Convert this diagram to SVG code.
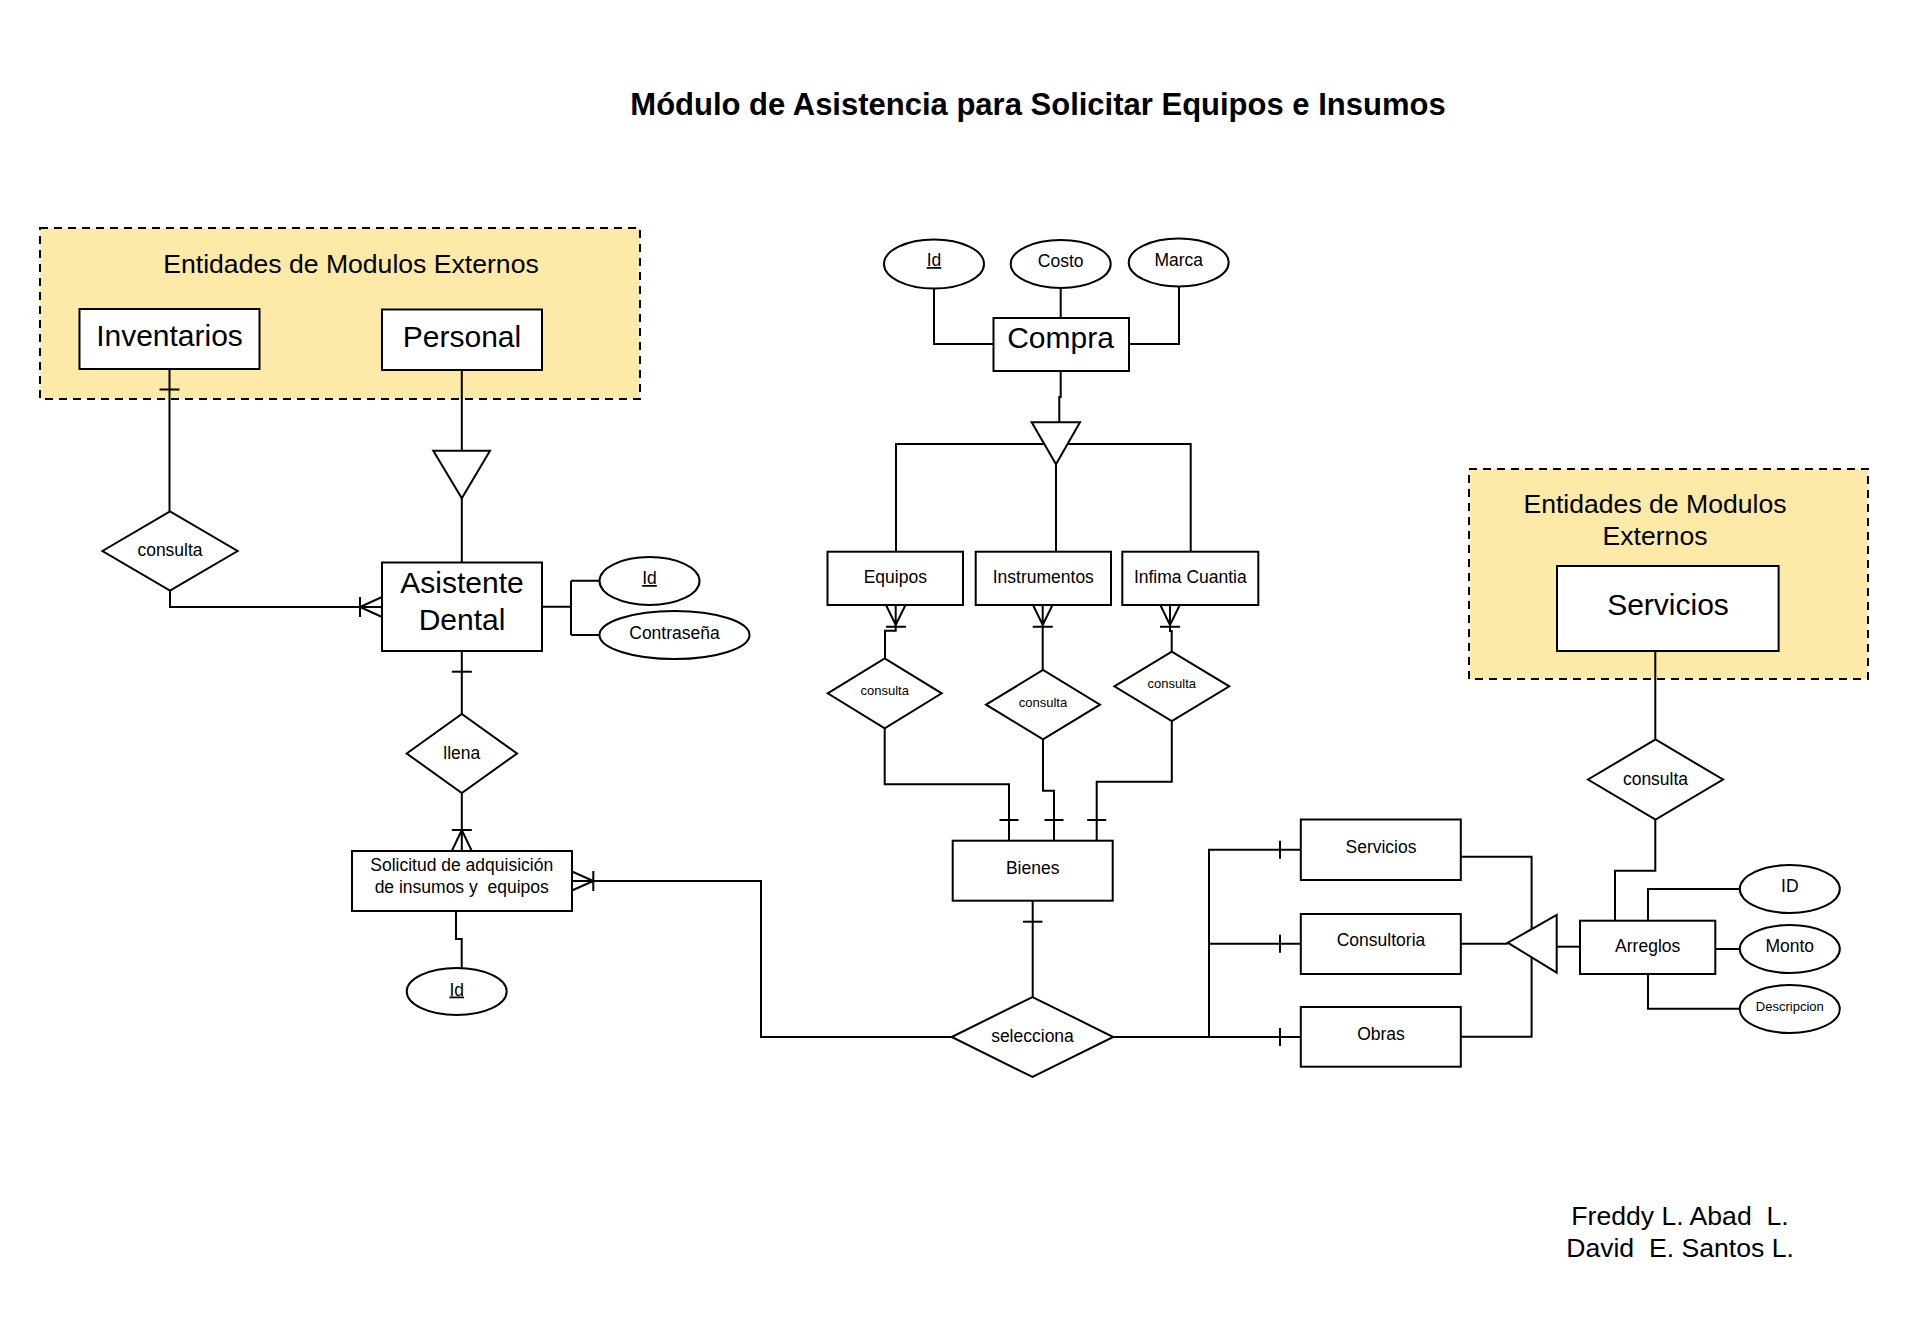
<svg xmlns="http://www.w3.org/2000/svg" width="1908" height="1329" viewBox="0 0 1908 1329">
<style>
  .bg { fill: #ffffff; }
  .grp { fill: #fde9a8; stroke: #000; stroke-width: 2; stroke-dasharray: 8 6; }
  .ent { fill: #ffffff; stroke: #000; stroke-width: 2; }
  .rel { fill: #ffffff; stroke: #000; stroke-width: 2; }
  .att { fill: #ffffff; stroke: #000; stroke-width: 2; }
  .isa { fill: #ffffff; stroke: #000; stroke-width: 2; }
  .ln { fill: none; stroke: #000; stroke-width: 2; }
  text { font-family: "Liberation Sans", Arial, sans-serif; fill: #000; text-anchor: middle; }
  .big { font-size: 30px; }
  .mid { font-size: 17.5px; }
  .sm { font-size: 13px; }
  .hdr { font-size: 26.6px; }
  .title { font-size: 31px; font-weight: bold; }
  .pre { white-space: pre; }
  .u { text-decoration: underline; }
</style>
<rect class="bg" x="0" y="0" width="1908" height="1329"/>

<text class="title" x="1038" y="115">Módulo de Asistencia para Solicitar Equipos e Insumos</text>

<!-- external module groups -->
<g id="grupo-externo-1">
  <rect class="grp" x="40" y="228" width="600" height="171"/>
  <text class="hdr" x="351" y="273">Entidades de Modulos Externos</text>
</g>
<g id="grupo-externo-2">
  <rect class="grp" x="1469" y="469" width="399" height="210"/>
  <text class="hdr" x="1655" y="513">Entidades de Modulos</text>
  <text class="hdr" x="1655" y="545">Externos</text>
</g>

<!-- connectors -->
<g id="connectors">
  <path class="ln" d="M169.5 369 V511"/>
  <path class="ln" d="M159.5 389.5 H179.5"/>
  <path class="ln" d="M170 591 V607 H382"/>
  <path class="ln" d="M360 597 V617 M382 597 L360 607 L382 617"/>
  <path class="ln" d="M461.8 370 V451"/>
  <path class="ln" d="M461.8 498 V562"/>
  <path class="ln" d="M542 606.7 H571 M571 580.7 V635 M571 580.7 H599.5 M571 635 H599.5"/>
  <path class="ln" d="M461.8 651 V714"/>
  <path class="ln" d="M451.8 671.7 H471.8"/>
  <path class="ln" d="M461.8 793 V851"/>
  <path class="ln" d="M451.8 830 H471.8 M451.8 851 L461.8 830 L471.8 851"/>
  <path class="ln" d="M456 910.7 V939 H461.7 V968"/>
  <path class="ln" d="M572 881 H761 V1037 H951.7"/>
  <path class="ln" d="M593.3 871 V891 M572 871.5 L593.3 881 L572 890.5"/>
  <path class="ln" d="M934 288 V344 H993"/>
  <path class="ln" d="M1060.7 288 V318"/>
  <path class="ln" d="M1179 287 V344 H1129"/>
  <path class="ln" d="M1060.7 371 V397 H1059.3 V422.3"/>
  <path class="ln" d="M896 551.7 V444 H1190.7 V551.7"/>
  <path class="ln" d="M1056 464.3 V551.7"/>
  <path class="ln" d="M886 605 L895.7 625 L905.5 605 M895.7 605 V630.7 H885 V658.3 M886 626.7 H906"/>
  <path class="ln" d="M1033 605 L1042.7 625 L1052.5 605 M1042.7 605 V670 M1032.7 626.7 H1052.7"/>
  <path class="ln" d="M1160.3 605 L1170 625 L1179.8 605 M1170 605 V631 H1171.7 V651.7 M1160 626.7 H1180"/>
  <path class="ln" d="M884.7 728.3 V784.3 H1009 V840.7"/>
  <path class="ln" d="M1043 739.3 V790.7 H1054 V840.7"/>
  <path class="ln" d="M1171.8 721 V781.7 H1096.7 V840.7"/>
  <path class="ln" d="M999.5 820 H1018.5 M1044.5 820 H1063.5 M1087.2 820 H1106.2"/>
  <path class="ln" d="M1032.7 900.7 V997"/>
  <path class="ln" d="M1023 921.7 H1042.5"/>
  <path class="ln" d="M1113.3 1037 H1300.8 M1209 1037 V849.7 H1300.8 M1209 943.8 H1300.8"/>
  <path class="ln" d="M1280 840.7 V858.7 M1280 934.8 V952.8 M1280 1028 V1046"/>
  <path class="ln" d="M1461 856.7 H1531.6 V1036.7 H1461"/>
  <path class="ln" d="M1461 943.7 H1507.7"/>
  <path class="ln" d="M1556.7 946.7 H1580"/>
  <path class="ln" d="M1615 921 V870.7 H1655.3 V819.5"/>
  <path class="ln" d="M1655.3 651 V739.5"/>
  <path class="ln" d="M1648 921 V889 H1739.8"/>
  <path class="ln" d="M1715.3 949 H1739.8"/>
  <path class="ln" d="M1648 974 V1008.7 H1739.8"/>
</g>

<!-- nodes -->
<g id="inventarios">
  <rect class="ent" x="79.5" y="309" width="180" height="60"/>
  <text class="big" x="169.5" y="346">Inventarios</text>
</g>
<g id="personal">
  <rect class="ent" x="382" y="309.5" width="160" height="60.5"/>
  <text class="big" x="462" y="346.5">Personal</text>
</g>
<g id="isa-personal">
  <polygon class="isa" points="433.3,450.7 490,450.7 461.8,498.3"/>
</g>
<g id="consulta-inventarios">
  <polygon class="rel" points="102.4,551 170,511.5 237.6,551 170,590.7"/>
  <text class="mid" x="170" y="556">consulta</text>
</g>
<g id="asistente-dental">
  <rect class="ent" x="382" y="562.5" width="160" height="88.5"/>
  <text class="big" x="462" y="592.5">Asistente</text>
  <text class="big" x="462" y="629.5">Dental</text>
</g>
<g id="asistente-id">
  <ellipse class="att" cx="649.5" cy="581" rx="50" ry="24"/>
  <text class="mid u" x="649.5" y="584">Id</text>
</g>
<g id="asistente-contrasena">
  <ellipse class="att" cx="674.5" cy="635" rx="75" ry="24"/>
  <text class="mid" x="674.5" y="638.5">Contraseña</text>
</g>
<g id="llena">
  <polygon class="rel" points="406.7,753.5 461.8,714 517,753.5 461.8,793"/>
  <text class="mid" x="461.8" y="758.5">llena</text>
</g>
<g id="solicitud">
  <rect class="ent" x="352" y="851" width="220" height="60"/>
  <text class="mid pre" x="461.7" y="870.5">Solicitud de adquisición</text>
  <text class="mid pre" x="461.7" y="892.5">de insumos y  equipos</text>
</g>
<g id="solicitud-id">
  <ellipse class="att" cx="456.7" cy="991.5" rx="50" ry="23.5"/>
  <text class="mid u" x="456.7" y="995.5">Id</text>
</g>
<g id="compra">
  <rect class="ent" x="993.5" y="318" width="135.5" height="53"/>
  <text class="big" x="1060.5" y="348">Compra</text>
</g>
<g id="compra-id">
  <ellipse class="att" cx="934" cy="264" rx="50" ry="24.5"/>
  <text class="mid u" x="934" y="266">Id</text>
</g>
<g id="compra-costo">
  <ellipse class="att" cx="1060.7" cy="264" rx="50" ry="24"/>
  <text class="mid" x="1060.7" y="266.5">Costo</text>
</g>
<g id="compra-marca">
  <ellipse class="att" cx="1178.7" cy="262.5" rx="50" ry="24"/>
  <text class="mid" x="1178.7" y="265.5">Marca</text>
</g>
<g id="isa-compra">
  <polygon class="isa" points="1031.7,422.3 1080,422.3 1056,464.3"/>
</g>
<g id="equipos">
  <rect class="ent" x="827.5" y="551.7" width="135.5" height="53.3"/>
  <text class="mid" x="895.3" y="583">Equipos</text>
</g>
<g id="instrumentos">
  <rect class="ent" x="975.7" y="551.7" width="135.3" height="53.3"/>
  <text class="mid" x="1043.3" y="583">Instrumentos</text>
</g>
<g id="infima-cuantia">
  <rect class="ent" x="1122.3" y="551.7" width="136" height="53.3"/>
  <text class="mid" x="1190.3" y="583">Infima Cuantia</text>
</g>
<g id="consulta-equipos">
  <polygon class="rel" points="827.7,693.3 884.7,658.3 941.7,693.3 884.7,728.3"/>
  <text class="sm" x="884.7" y="695">consulta</text>
</g>
<g id="consulta-instrumentos">
  <polygon class="rel" points="986,704.7 1043,670 1100,704.7 1043,739.3"/>
  <text class="sm" x="1043" y="706.5">consulta</text>
</g>
<g id="consulta-infima">
  <polygon class="rel" points="1114.3,686.3 1171.8,651.7 1229.3,686.3 1171.8,721"/>
  <text class="sm" x="1171.8" y="688">consulta</text>
</g>
<g id="bienes">
  <rect class="ent" x="952.7" y="840.7" width="160" height="60"/>
  <text class="mid" x="1032.7" y="874">Bienes</text>
</g>
<g id="selecciona">
  <polygon class="rel" points="951.7,1037 1032.5,997 1113.3,1037 1032.5,1077"/>
  <text class="mid" x="1032.5" y="1041.5">selecciona</text>
</g>
<g id="servicios-sub">
  <rect class="ent" x="1300.8" y="819.5" width="160" height="60.5"/>
  <text class="mid" x="1381" y="853">Servicios</text>
</g>
<g id="consultoria">
  <rect class="ent" x="1300.8" y="914" width="160" height="60"/>
  <text class="mid" x="1381" y="946">Consultoria</text>
</g>
<g id="obras">
  <rect class="ent" x="1300.8" y="1007" width="160" height="59.7"/>
  <text class="mid" x="1381" y="1039.5">Obras</text>
</g>
<g id="isa-arreglos">
  <polygon class="isa" points="1556.7,915 1556.7,972.7 1507.7,942.7"/>
</g>
<g id="arreglos">
  <rect class="ent" x="1580" y="920.7" width="135.3" height="53.3"/>
  <text class="mid" x="1647.7" y="951.5">Arreglos</text>
</g>
<g id="arreglos-id">
  <ellipse class="att" cx="1789.8" cy="889" rx="50" ry="24"/>
  <text class="mid" x="1789.8" y="891.5">ID</text>
</g>
<g id="arreglos-monto">
  <ellipse class="att" cx="1789.8" cy="949" rx="50" ry="24"/>
  <text class="mid" x="1789.8" y="951.5">Monto</text>
</g>
<g id="arreglos-descripcion">
  <ellipse class="att" cx="1789.8" cy="1009" rx="50" ry="24"/>
  <text class="sm" x="1789.8" y="1011">Descripcion</text>
</g>
<g id="consulta-servicios">
  <polygon class="rel" points="1588,779.5 1655.5,739.5 1723,779.5 1655.5,819.5"/>
  <text class="mid" x="1655.5" y="784.5">consulta</text>
</g>
<g id="servicios">
  <rect class="ent" x="1557" y="566" width="221.6" height="85"/>
  <text class="big" x="1668" y="615">Servicios</text>
</g>

<g id="autores">
  <text class="hdr pre" x="1680" y="1225">Freddy L. Abad  L.</text>
  <text class="hdr pre" x="1680" y="1257">David  E. Santos L.</text>
</g>
</svg>
